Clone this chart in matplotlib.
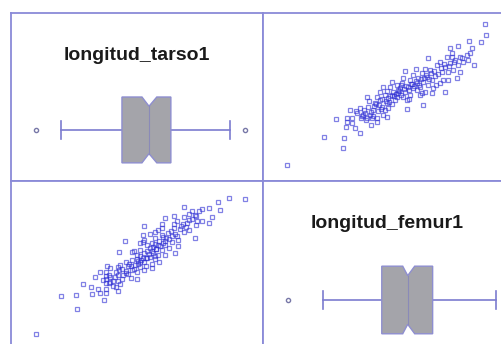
import matplotlib
matplotlib.use("Agg")
import matplotlib.pyplot as plt

# paired measurements (same order in both lists)
femur = [12.4, 16.1, 18.1, 18.0, 19.7, 17.3, 18.4, 18.4, 18.9, 18.9, 18.3, 19.3, 20.4, 21.4,
         19.7, 20.2, 20.5, 20.7, 21.0, 21.2, 21.4, 21.5, 21.9, 22.0, 22.2, 20.9, 20.4, 20.0, 21.7, 22.4, 22.5, 21.4, 19.4, 22.4,
         22.0, 22.4, 22.7, 22.9, 23.0, 23.4, 23.5, 23.7, 24.0, 24.2, 24.4, 23.2, 22.5, 22.2, 23.9, 23.4, 24.5, 24.7, 24.4, 26.0, 22.9,
         24.7, 25.0, 25.4, 25.5, 25.7, 25.9, 26.0, 26.4, 26.5, 26.7, 26.9, 27.0, 27.2, 27.4, 25.0, 25.4, 26.2, 26.9, 24.2, 25.3, 26.5,
         27.7, 27.9, 28.0, 28.2, 28.4, 28.5, 28.7, 28.9, 29.0, 29.2, 29.4, 29.5, 27.7, 28.5, 28.7, 29.5, 29.7, 30.0,
         30.6, 31.8, 30.9, 30.7, 30.5, 32.2, 32.3, 30.4,
         24.0, 24.9, 23.5, 21.3, 20.6, 19.8, 20.8, 19.2, 18.7, 22.9, 21.7, 25.7, 27.3, 28.2, 29.7, 31.1,
         20.1, 20.8, 21.1, 21.6, 21.8, 22.3, 22.6, 23.1, 23.3, 23.6, 23.8, 24.1, 24.3, 24.6, 24.8, 25.1, 25.3, 25.6, 25.8, 26.1,
         26.3, 26.6, 26.8, 27.1, 27.5, 27.8, 28.1, 28.6, 29.1, 29.9, 21.0, 19.9, 20.3, 22.7, 23.8, 25.9, 24.6, 21.9, 26.2, 28.9]
tarso = [13.2, 18.8, 18.6, 16.6, 19.6, 22.4, 22.6, 21.8, 22.6, 21.6, 20.8, 24.0, 26.8, 26.8,
         24.6, 23.6, 24.8, 23.2, 24.2, 25.6, 22.6, 24.0, 24.8, 23.2, 24.2, 22.6, 22.6, 23.2, 26.2, 25.6, 24.6, 21.8, 23.6, 22.8,
         28.8, 28.0, 28.8, 27.2, 27.8, 26.8, 27.6, 28.6, 26.8, 27.8, 26.2, 26.2, 26.6, 27.2, 29.6, 29.2, 28.8, 27.2, 24.4, 25.2, 29.8,
         30.2, 31.2, 29.6, 30.6, 28.8, 31.6, 29.8, 30.8, 29.2, 32.2, 30.2, 28.6, 31.0, 33.2, 28.6, 28.2, 27.8, 27.6, 32.0, 32.4, 34.6,
         33.8, 31.8, 30.2, 32.8, 34.8, 31.8, 33.6, 35.6, 32.2, 34.2, 30.6, 33.2, 29.6, 30.2, 36.6, 37.0, 34.8, 33.8,
         38.0, 37.8, 36.6, 35.6, 34.2, 41.4, 39.2, 35.2,
         30.6, 29.4, 28.2, 25.4, 26.0, 22.6, 21.2, 20.6, 24.2, 25.4, 27.8, 27.2, 29.2, 27.8, 31.8, 33.2,
         24.2, 23.9, 25.0, 25.3, 24.4, 26.0, 25.8, 27.0, 27.4, 28.0, 27.2, 28.4, 29.0, 28.2, 29.4, 29.0, 30.0, 29.2, 30.4, 30.6,
         31.2, 30.4, 31.6, 32.0, 31.4, 32.6, 33.4, 33.0, 33.8, 34.6, 23.0, 23.0, 22.2, 27.0, 29.2, 27.6, 26.4, 26.4, 32.4, 34.9]

# box summaries
tarso_box = {"whislo": 16.6, "q1": 24.8, "cilo": 27.5, "med": 28.45, "cihi": 29.5, "q3": 31.4, "whishi": 39.4}
tarso_out = [13.2, 41.4]
femur_box = {"whislo": 16.0, "q1": 21.9, "cilo": 24.0, "med": 24.5, "cihi": 25.2, "q3": 27.0, "whishi": 33.3}
femur_out = [12.5]

names = ["longitud_tarso1", "longitud_femur1"]
tarso_lim = (9.83, 43.83)
femur_lim = (10.0, 34.85)

frame_col = "#8a8ad8"
line_col = "#7c7cd0"
box_fill = "#a4a4aa"
pt_col = "#2e2ed4"

W, H = 502, 344
fig = plt.figure(figsize=(W / 100, H / 100), dpi=100)
fig.patch.set_facecolor("white")


def make_ax(x0, y0, x1, y1):
    ax = fig.add_axes([x0 / W, 1 - y1 / H, (x1 - x0) / W, (y1 - y0) / H])
    ax.set_xticks([])
    ax.set_yticks([])
    for s in ax.spines.values():
        s.set_color(frame_col)
        s.set_linewidth(1.3)
    return ax


def draw_box(ax, st, outl, title, c=0.30, h=0.198, n=0.72, cap=0.055):
    xs = [st["q1"], st["cilo"], st["med"], st["cihi"], st["q3"],
          st["q3"], st["cihi"], st["med"], st["cilo"], st["q1"]]
    ys = [c - h, c - h, c - h * n, c - h, c - h,
          c + h, c + h, c + h * n, c + h, c + h]
    ax.fill(xs, ys, facecolor=box_fill, edgecolor="#8e8ed0", linewidth=1.0, zorder=3)
    ax.plot([st["med"], st["med"]], [c - h * n, c + h * n], color="#8a8ab8", lw=0.8, zorder=4)
    ax.plot([st["whislo"], st["q1"]], [c, c], color=line_col, lw=1.2)
    ax.plot([st["q3"], st["whishi"]], [c, c], color=line_col, lw=1.2)
    for w in (st["whislo"], st["whishi"]):
        ax.plot([w, w], [c - cap, c + cap], color=line_col, lw=1.2)
    ax.plot(outl, [c] * len(outl), "o", ms=3, mfc="none", mec="#7878a8", mew=1.0)
    ax.set_ylim(0, 1)
    ax.text(0.5, 0.75, title, transform=ax.transAxes, ha="center", va="center",
            fontsize=14, fontweight="bold", family="Liberation Sans", color="#1a1a1a")


# top-left: tarso box
ax1 = make_ax(11, 13, 263, 181)
ax1.set_xlim(*tarso_lim)
draw_box(ax1, tarso_box, tarso_out, names[0], c=0.304, h=0.196)

# top-right: femur vs tarso
ax2 = make_ax(263, 13, 511, 181)
ax2.plot(femur, tarso, "s", ms=2.8, mfc="none", mec=pt_col, mew=0.9, alpha=0.6)
ax2.set_xlim(*femur_lim)
ax2.set_ylim(10.0, 43.6)

# bottom-left: tarso vs femur
ax3 = make_ax(11, 181, 263, 350)
ax3.plot(tarso, femur, "s", ms=2.8, mfc="none", mec=pt_col, mew=0.9, alpha=0.6)
ax3.set_xlim(*tarso_lim)
ax3.set_ylim(*femur_lim)

# bottom-right: femur box
ax4 = make_ax(263, 181, 511, 350)
ax4.set_xlim(*femur_lim)
draw_box(ax4, femur_box, femur_out, names[1], c=0.296, h=0.2)

fig.savefig("out.png", dpi=100)
